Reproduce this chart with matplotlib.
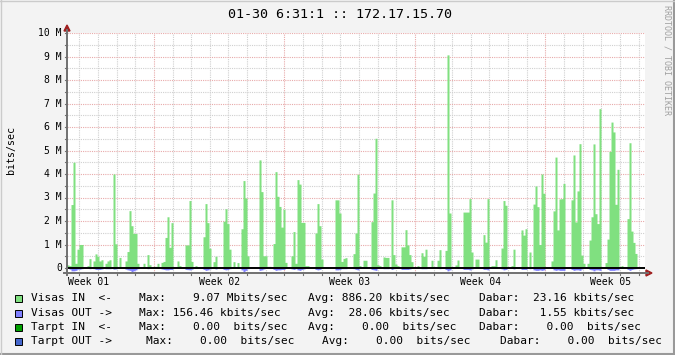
import numpy as np
import matplotlib.pyplot as plt
from matplotlib.patches import Rectangle, Polygon

# Visas IN, Mbit/s, one value per sample step (31 days, 289 steps)
visas_in = [
    0.13, 0.1, 2.7, 4.5, 0.2, 0.8, 1.0, 1.0, 0, 0,
    0.1, 0.4, 0, 0.3, 0.6, 0.5, 0.3, 0.35, 0, 0.2,
    0.3, 0.35, 0, 4.0, 1.03, 0, 0.45, 0, 0, 0.3,
    0.7, 2.44, 1.8, 1.47, 1.47, 0.2, 0, 0, 0.2, 0,
    0.57, 0.14, 0, 0.07, 0.07, 0.2, 0, 0.24, 0.28, 1.3,
    2.18, 0.88, 1.93, 0, 0, 0.3, 0.1, 0, 0, 0.98,
    0.98, 2.87, 0.28, 0, 0.1, 0.05, 0, 0, 1.33, 2.74,
    1.93, 0.84, 0, 0.27, 0.5, 0, 0, 0, 1.99, 2.52,
    1.89, 0.8, 0, 0.27, 0, 0.23, 0, 1.67, 3.72, 2.98,
    0.52, 0, 0, 0.06, 0, 0, 4.6, 3.25, 0.52, 0.52,
    0.07, 0.07, 0, 1.04, 4.1, 3.05, 2.62, 1.74, 2.5, 0.24,
    0, 0, 0.52, 1.55, 0.2, 3.76, 3.57, 1.94, 1.94, 0.1,
    0.1, 0, 0, 0, 1.49, 2.74, 1.8, 0.38, 0, 0,
    0.06, 0, 0, 0, 2.9, 2.9, 2.34, 0.28, 0.41, 0.44,
    0, 0, 0, 0.61, 1.49, 3.99, 0.1, 0, 0.33, 0.33,
    0, 0, 1.97, 3.19, 5.52, 0.14, 0.1, 0, 0.47, 0.45,
    0.45, 0, 2.9, 0.57, 0.17, 0.1, 0, 0.9, 0.9, 1.63,
    0.98, 0.57, 0.27, 0, 0, 0.1, 0, 0.65, 0.5, 0.8,
    0.05, 0, 0.33, 0.05, 0, 0.33, 0.78, 0, 0, 0.75,
    9.07, 2.34, 0.05, 0, 0.13, 0.34, 0, 0, 2.38, 2.38,
    2.38, 2.95, 0.68, 0, 0.38, 0.38, 0, 0, 1.42, 1.1,
    2.95, 0.05, 0.1, 0.1, 0.35, 0, 0, 0.85, 2.87, 2.67,
    0.05, 0, 0.1, 0.8, 0.06, 0.06, 0.06, 1.62, 1.4, 1.67,
    0.05, 0.68, 0, 2.72, 3.49, 2.61, 1.0, 4.0, 3.18, 0.05,
    0, 0, 0.3, 2.43, 4.72, 1.62, 2.94, 2.95, 3.6, 0.05,
    0, 0, 2.9, 4.81, 1.96, 3.28, 5.29, 0.55, 0.2, 0,
    0.2, 1.19, 2.18, 5.28, 2.31, 1.89, 6.78, 0, 0, 0.23,
    1.23, 4.96, 6.21, 5.79, 2.71, 4.2, 0.05, 0.1, 0, 0,
    2.1, 5.33, 1.57, 1.09, 0.62, 0.05, 0.05, 0.05, 0,
]

# Visas OUT, Mbit/s (drawn below zero)
visas_out = [
    0, 0.05, 0.12, 0.12, 0.1, 0.05, 0.05, 0.03, 0, 0,
    0, 0.03, 0, 0.03, 0.06, 0.06, 0.06, 0.04, 0, 0.03,
    0.03, 0.03, 0, 0.05, 0.04, 0, 0.02, 0, 0, 0.05,
    0.08, 0.1, 0.15, 0.12, 0.08, 0.03, 0, 0, 0.02, 0,
    0.03, 0, 0, 0, 0, 0.02, 0, 0.04, 0.06, 0.08,
    0.08, 0.06, 0.06, 0, 0, 0.02, 0, 0, 0, 0.06,
    0.07, 0.08, 0.05, 0, 0.02, 0, 0, 0, 0.06, 0.1,
    0.08, 0.04, 0, 0.02, 0.04, 0, 0, 0, 0.06, 0.08,
    0.06, 0.03, 0, 0.02, 0, 0.02, 0, 0.08, 0.15, 0.1,
    0.03, 0, 0, 0, 0, 0, 0.1, 0.08, 0.04, 0.02,
    0, 0, 0, 0.06, 0.1, 0.08, 0.08, 0.06, 0.06, 0.02,
    0, 0, 0.04, 0.06, 0.03, 0.08, 0.1, 0.06, 0.04, 0,
    0, 0, 0, 0, 0.06, 0.08, 0.06, 0.02, 0, 0,
    0, 0, 0, 0, 0.08, 0.08, 0.06, 0.03, 0.03, 0.03,
    0, 0, 0, 0.03, 0.06, 0.08, 0.02, 0, 0.02, 0.02,
    0, 0, 0.06, 0.08, 0.1, 0.02, 0.02, 0, 0.03, 0.03,
    0.03, 0, 0.06, 0.03, 0.02, 0.02, 0, 0.06, 0.06, 0.06,
    0.06, 0.04, 0.02, 0, 0, 0, 0, 0.03, 0.03, 0.03,
    0, 0, 0.02, 0, 0, 0.02, 0.03, 0, 0, 0.06,
    0.12, 0.08, 0.02, 0, 0, 0.02, 0, 0, 0.06, 0.06,
    0.06, 0.08, 0.04, 0, 0.02, 0.02, 0, 0, 0.06, 0.06,
    0.08, 0, 0.02, 0.02, 0.02, 0, 0, 0.04, 0.08, 0.06,
    0, 0, 0.02, 0.04, 0.02, 0.02, 0.02, 0.06, 0.06, 0.06,
    0, 0.03, 0, 0.08, 0.1, 0.1, 0.08, 0.1, 0.08, 0.02,
    0, 0, 0.02, 0.08, 0.1, 0.08, 0.1, 0.1, 0.1, 0.02,
    0, 0, 0.06, 0.1, 0.08, 0.08, 0.1, 0.04, 0.02, 0,
    0.02, 0.06, 0.08, 0.12, 0.08, 0.08, 0.1, 0, 0, 0.02,
    0.06, 0.1, 0.1, 0.1, 0.08, 0.08, 0.02, 0.02, 0, 0,
    0.06, 0.1, 0.06, 0.04, 0.03, 0.02, 0.02, 0, 0,
]

week_labels = ["Week 01", "Week 02", "Week 03", "Week 04", "Week 05"]
ytick_vals = list(range(11))
ytick_labels = ["0"] + ["%d M" % v for v in range(1, 11)]

title = "01-30 6:31:1 :: 172.17.15.70"
legend_names = ["Visas IN  <-", "Visas OUT ->", "Tarpt IN  <-", "Tarpt OUT ->"]
legend_max = ["Max:    9.07 Mbits/sec", "Max: 156.46 kbits/sec",
              "Max:    0.00  bits/sec", "Max:    0.00  bits/sec"]
legend_avg = ["Avg: 886.20 kbits/sec", "Avg:  28.06 kbits/sec",
              "Avg:    0.00  bits/sec", "Avg:    0.00  bits/sec"]
legend_cur = ["Dabar:  23.16 kbits/sec", "Dabar:   1.55 kbits/sec",
              "Dabar:    0.00  bits/sec", "Dabar:    0.00  bits/sec"]
legend_colors = ["#80E080", "#8080FF", "#00A000", "#4466CC"]

# time axis in days
span_days = 31.0
first_midnight = 0.66
first_monday = 4      # index of the first week boundary (red grid line)

W, H = 675, 355
MONO = "DejaVu Sans Mono"
BG = "#F3F3F3"

fig = plt.figure(figsize=(W / 100, H / 100), dpi=100, facecolor=BG)
L, R, T, B = 67, 645, 33, 273
ax = fig.add_axes([L / W, 1 - B / H, (R - L) / W, (B - T) / H])
ax.set_facecolor("white")

n = len(visas_in)
edges = np.arange(n + 1) * span_days / n
vin = np.append(visas_in, visas_in[-1])
vout = -np.append(visas_out, visas_out[-1])

ymin = -(B - 268) / 23.5
ax.set_xlim(0, span_days)
ax.set_ylim(ymin, 10)

# grid
for k in range(32):
    d = first_midnight + k
    if d > span_days:
        break
    major = (k - first_monday) % 7 == 0
    ax.axvline(d, color="#E8AAAA" if major else "#D0D0D0", lw=0.8,
               ls=(0, (1, 1)), zorder=1)
for yv in np.arange(0.5, 10.01, 0.5):
    major = abs(yv - round(yv)) < 1e-6
    ax.axhline(yv, color="#E8AAAA" if major else "#D0D0D0", lw=0.8,
               ls=(0, (1, 1)), zorder=1)

ax.fill_between(edges, 0, vin, step="post", color="#80E080", lw=0, zorder=2)
ax.fill_between(edges, 0, vout, step="post", color="#8080FF", lw=0, zorder=2)
ax.axhline(0, color="black", lw=1.4, zorder=3)

for s in ax.spines.values():
    s.set_visible(False)
ax.set_xticks([])
ax.set_yticks([])

# axes lines and arrows (in pixel -> figure coords)
def fx(px):
    return px / W

def fy(py):
    return 1 - py / H

fig.add_artist(plt.Line2D([fx(67), fx(67)], [fy(275), fy(30)], color="#707070", lw=1.4))
fig.add_artist(plt.Line2D([fx(64), fx(648)], [fy(273), fy(273)], color="#707070", lw=1.4))
fig.add_artist(Polygon([[fx(64), fy(31)], [fx(70), fy(31)], [fx(67), fy(25)]],
                       closed=True, color="#A02020", transform=fig.transFigure))
fig.add_artist(Polygon([[fx(646), fy(270)], [fx(646), fy(276)], [fx(652), fy(273)]],
                       closed=True, color="#A02020", transform=fig.transFigure))

# y tick labels and small ticks
for v, lab in zip(ytick_vals, ytick_labels):
    py = 268 - v * 23.5
    fig.text(fx(62), fy(py), lab, ha="right", va="center", family=MONO,
             fontsize=7, color="#000000")
for yv in np.arange(0, 10.01, 0.5):
    py = 268 - yv * 23.5
    fig.add_artist(plt.Line2D([fx(65), fx(67)], [fy(py), fy(py)], color="#707070", lw=0.8))

# x ticks, labels
for k in range(32):
    d = first_midnight + k
    if d > span_days:
        break
    px = L + d / span_days * (R - L)
    fig.add_artist(plt.Line2D([fx(px), fx(px)], [fy(273), fy(275)], color="#707070", lw=0.8))
for i, lab in enumerate(week_labels):
    d = first_midnight + first_monday + 7 * i - 3.5
    px = L + d / span_days * (R - L)
    fig.text(fx(px), fy(282), lab, ha="center", va="center", family=MONO,
             fontsize=7, color="#000000")

fig.text(fx(11), fy(150), "bits/sec", rotation=90, ha="center", va="center",
         family=MONO, fontsize=7.2)
fig.text(fx(340), fy(14), title, ha="center", va="center", family=MONO, fontsize=9.6)
fig.text(fx(667), fy(5), "RRDTOOL / TOBI OETIKER", rotation=270, ha="center",
         va="top", family=MONO, fontsize=6, color="#A0A0A0")

rows_y = [298, 313, 327, 341]
for i in range(4):
    py = rows_y[i]
    fig.add_artist(Rectangle((fx(15), fy(py + 3.5)), 7 / W, 7 / H,
                             facecolor=legend_colors[i], edgecolor="black",
                             lw=0.7, transform=fig.transFigure))
    off = 7 if i == 3 else 0
    fig.text(fx(31), fy(py), legend_names[i], va="center", family=MONO, fontsize=8)
    fig.text(fx(139 + off), fy(py), legend_max[i], va="center", family=MONO, fontsize=8)
    fig.text(fx(308 + 2 * off), fy(py), legend_avg[i], va="center", family=MONO, fontsize=8)
    fig.text(fx(479 + 3 * off), fy(py), legend_cur[i], va="center", family=MONO, fontsize=8)

# frame
fig.add_artist(plt.Line2D([0, 1], [fy(354), fy(354)], color="#999999", lw=1.5))
fig.add_artist(plt.Line2D([fx(674), fx(674)], [0, 1], color="#999999", lw=1.5))
fig.add_artist(plt.Line2D([0, 1], [fy(0.5), fy(0.5)], color="#CBCBCB", lw=1))
fig.add_artist(plt.Line2D([fx(0.5), fx(0.5)], [0, 1], color="#CBCBCB", lw=1))

fig.savefig("out.png", dpi=100, facecolor=BG)
